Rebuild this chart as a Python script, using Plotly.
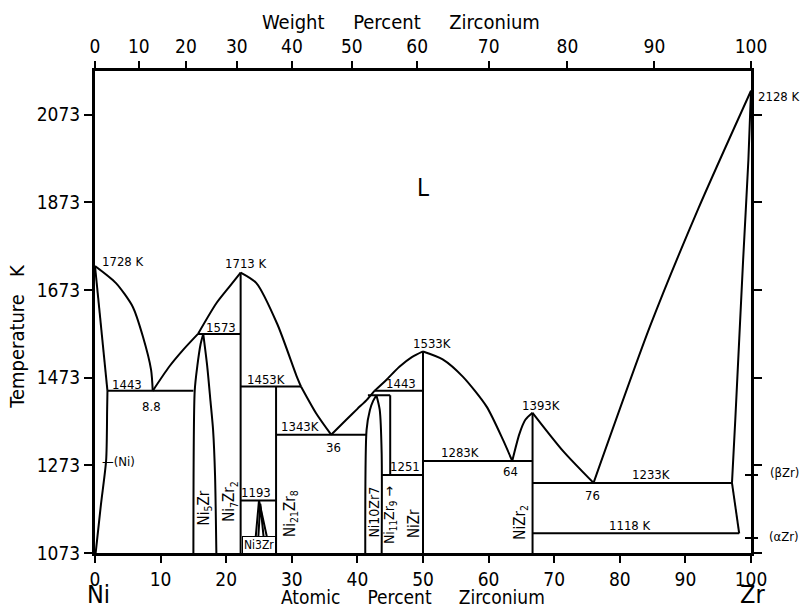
import plotly.graph_objects as go

# ---------------- data (at.% Zr, temperature K) ----------------
liq_a_x = [0, 3.2, 5.75, 7.3, 8.55, 8.8]
liq_a_T = [1728, 1689, 1635, 1567, 1491, 1443]
liq_b_x = [8.8, 11.3, 13.4, 15.7]
liq_b_T = [1443, 1498, 1536, 1573]
liq_c_x = [15.7, 18.5, 20.5, 22.2]
liq_c_T = [1573, 1643, 1681, 1713]
liq_d_x = [22.2, 24.6, 27.8, 30.7, 31.4]
liq_d_T = [1713, 1689, 1595, 1478, 1453]
liq_d2_x = [31.4, 33.7, 36.0]
liq_d2_T = [1453, 1392, 1343]
liq_e_x = [36.0, 38.3, 40.0, 41.4, 42.6]
liq_e_T = [1343, 1377, 1402, 1422, 1443]
liq_f_x = [42.6, 44.4, 46.4, 48.3, 50.0]
liq_f_T = [1443, 1468, 1498, 1520, 1533]
liq_g_x = [50.0, 53.0, 56.1, 59.7, 62.2, 63.6]
liq_g_T = [1533, 1515, 1475, 1407, 1331, 1283]
liq_h_x = [63.6, 64.7, 65.6, 66.7]
liq_h_T = [1283, 1345, 1377, 1393]
liq_i_x = [66.7, 71.4, 76.0]
liq_i_T = [1393, 1305, 1233]
liq_j_x = [76.0, 84.6, 92.0, 100.0]
liq_j_T = [1233, 1590, 1860, 2128]

ni_solidus_x = [0, 1.9]
ni_solidus_T = [1728, 1443]
ni_solvus_x = [1.9, 1.85, 1.7, 0.9, 0.1]
ni_solvus_T = [1443, 1400, 1285, 1183, 1073]

zr_solidus_x = [100.0, 99.6, 98.8, 97.6, 97.1]
zr_solidus_T = [2128, 1970, 1742, 1376, 1233]
zr_solvus_x = [97.1, 98.2]
zr_solvus_T = [1233, 1118]

ni5zr_left_x = [15.0, 15.2, 15.6, 16.1, 16.5]
ni5zr_left_T = [1073, 1443, 1500, 1550, 1573]
ni5zr_right_x = [16.5, 17.1, 17.6, 18.0, 18.3, 18.5]
ni5zr_right_T = [1573, 1500, 1420, 1354, 1250, 1073]

ni10zr7_left_x = [41.2, 41.4, 41.9, 42.4, 42.9]
ni10zr7_left_T = [1073, 1354, 1399, 1420, 1433]
ni10zr7_right_x = [42.9, 43.4, 43.7, 43.7]
ni10zr7_right_T = [1433, 1400, 1300, 1073]

ni3zr_outer_x = [24.5, 25.0, 26.2]
ni3zr_outer_T = [1110, 1193, 1110]
ni3zr_inner_x = [24.9, 25.2, 25.7]
ni3zr_inner_T = [1110, 1185, 1110]

# invariant horizontals: temperature, left end, right end
inv_T = [1443, 1573, 1453, 1343, 1443, 1433, 1251, 1193, 1283, 1233, 1118]
inv_x0 = [1.9, 15.7, 22.2, 27.6, 42.6, 41.6, 43.7, 22.2, 50.0, 66.7, 66.7]
inv_x1 = [15.0, 22.2, 31.4, 41.4, 50.0, 45.0, 50.0, 27.6, 66.7, 97.1, 98.2]

# line compounds: composition, lower T, upper T
cmp_x = [22.2, 27.6, 50.0, 66.7, 45.0]
cmp_T0 = [1073, 1073, 1073, 1073, 1251]
cmp_T1 = [1713, 1453, 1533, 1393, 1433]

y_ticks = [1073, 1273, 1473, 1673, 1873, 2073]
zr_marks_T = [1251, 1107]          # (βZr) / (αZr) markers on right axis
wt_ticks = [0, 10, 20, 30, 40, 50, 60, 70, 80, 90, 100]
x_ticks = [0, 10, 20, 30, 40, 50, 60, 70, 80, 90, 100]
M_NI, M_ZR = 58.69, 91.22

# ---------------- figure ----------------
FONT = "DejaVu Sans Condensed, DejaVu Sans, sans-serif"
Y_RANGE = [1073, 2173]
fig = go.Figure()


def add_line(x, y, smooth=True):
    fig.add_trace(go.Scatter(
        x=x, y=y, mode="lines", hoverinfo="skip", showlegend=False,
        line=dict(color="black", width=2,
                  shape="spline" if smooth and len(x) > 2 else "linear",
                  smoothing=0.7)))


for xs, ts in [(liq_a_x, liq_a_T), (liq_b_x, liq_b_T), (liq_c_x, liq_c_T),
               (liq_d_x, liq_d_T), (liq_d2_x, liq_d2_T), (liq_e_x, liq_e_T),
               (liq_f_x, liq_f_T), (liq_g_x, liq_g_T), (liq_h_x, liq_h_T),
               (liq_i_x, liq_i_T), (liq_j_x, liq_j_T),
               (ni_solidus_x, ni_solidus_T), (ni_solvus_x, ni_solvus_T),
               (zr_solidus_x, zr_solidus_T), (zr_solvus_x, zr_solvus_T),
               (ni5zr_left_x, ni5zr_left_T), (ni5zr_right_x, ni5zr_right_T),
               (ni10zr7_left_x, ni10zr7_left_T),
               (ni10zr7_right_x, ni10zr7_right_T)]:
    add_line(xs, ts)

for xs, ts in [(ni3zr_outer_x, ni3zr_outer_T), (ni3zr_inner_x, ni3zr_inner_T)]:
    add_line(xs, ts, smooth=False)

for T, a, b in zip(inv_T, inv_x0, inv_x1):
    add_line([a, b], [T, T], smooth=False)

for xc, t0, t1 in zip(cmp_x, cmp_T0, cmp_T1):
    add_line([xc, xc], [t0, t1], smooth=False)

# dummy traces so that the extra axes are drawn
fig.add_trace(go.Scatter(x=[0, 100], y=[1073, 1073], xaxis="x2", mode="markers",
                         marker=dict(opacity=0), hoverinfo="skip", showlegend=False))
for ya in ["y2", "y3"]:
    fig.add_trace(go.Scatter(x=[100, 100], y=Y_RANGE, yaxis=ya, mode="markers",
                             marker=dict(opacity=0), hoverinfo="skip",
                             showlegend=False))

# weight% -> atomic% positions for top ticks
wt_pos = []
for w in wt_ticks:
    if w == 0:
        wt_pos.append(0.0)
    elif w == 100:
        wt_pos.append(100.0)
    else:
        nz = w / M_ZR
        nn = (100 - w) / M_NI
        wt_pos.append(100 * nz / (nz + nn))

ann = []


def label(text, x, y, size=13, angle=0, xanchor="center", yanchor="middle",
          xref="x", yref="y"):
    ann.append(dict(text=text, x=x, y=y, xref=xref, yref=yref, showarrow=False,
                    textangle=angle, xanchor=xanchor, yanchor=yanchor,
                    font=dict(family=FONT, size=size, color="black")))


# temperature/composition labels
label("1728 K", 0.7, 1738, xanchor="left")
label("1713 K", 23.0, 1734)
label("1573", 19.2, 1588)
label("1443", 4.9, 1458)
label("8.8", 8.6, 1407)
label("1453K", 26.1, 1469)
label("1343K", 31.3, 1361)
label("36", 36.3, 1314)
label("1193", 24.6, 1211)
label("1443", 46.7, 1459)
label("1251", 47.3, 1270)
label("1533K", 51.4, 1552)
label("1283K", 55.6, 1302)
label("64", 63.4, 1259)
label("1393K", 68.0, 1409)
label("1233K", 84.7, 1253)
label("76", 75.8, 1205)
label("1118 K", 81.5, 1135)
label("L", 50.0, 1905, size=24)
label("—(Ni)", 0.8, 1282, xanchor="left")

# phase names (rotated)
label("Ni<sub>5</sub>Zr", 16.7, 1176, size=15, angle=-90)
label("Ni<sub>7</sub>Zr<sub>2</sub>", 20.6, 1190, size=15, angle=-90)
label("Ni<sub>21</sub>Zr<sub>8</sub>", 29.7, 1164, size=15, angle=-90)
label("Ni10Zr7", 42.5, 1167, size=14, angle=-90)
label("Ni<sub>11</sub>Zr<sub>9</sub> →", 45.0, 1160, size=14, angle=-90)
label("NiZr", 48.6, 1141, size=15, angle=-90)
label("NiZr<sub>2</sub>", 64.9, 1144, size=15, angle=-90)
ann.append(dict(text="Ni3Zr", x=25.0, y=1091, xref="x", yref="y", showarrow=False,
                font=dict(family=FONT, size=12, color="black"),
                bordercolor="black", borderwidth=1, borderpad=1, bgcolor="white"))

# right side
label("2128 K", 1.0762, 0.947, size=13, xanchor="right", xref="paper", yref="paper")
label("(βZr)", 1.0762, 0.166, size=13, xanchor="right", xref="paper", yref="paper")
label("(αZr)", 1.0762, 0.034, size=13, xanchor="right", xref="paper", yref="paper")

# axis titles
SP = "\u00a0" * 5
label("Weight" + SP + "Percent" + SP + "Zirconium",
      0.466, 1.102, size=20, xref="paper", yref="paper")
label("Atomic" + SP + "Percent" + SP + "Zirconium", 0.485, -0.118,
      size=19, yanchor="bottom", xref="paper", yref="paper")
label("Ni", 0.005, -0.121, size=25, yanchor="bottom", xref="paper", yref="paper")
label("Zr", 1.003, -0.121, size=25, yanchor="bottom", xref="paper", yref="paper")
label("Temperature\u00a0\u00a0\u00a0K", -0.118, 0.45, size=20, angle=-90,
      xref="paper", yref="paper")

tickfont = dict(family=FONT, size=19, color="black")
fig.update_layout(
    width=803, height=612,
    margin=dict(l=95, r=52, t=71, b=59),
    paper_bgcolor="white", plot_bgcolor="white",
    showlegend=False,
    annotations=ann,
    xaxis=dict(range=[0, 100], tickvals=x_ticks, ticks="outside", ticklen=7,
               tickwidth=2, tickcolor="black", showline=True, linewidth=3,
               linecolor="black", mirror=False, showgrid=False, zeroline=False,
               tickfont=tickfont),
    xaxis2=dict(range=[0, 100], overlaying="x", side="top", anchor="y",
                tickvals=wt_pos, ticktext=[str(w) for w in wt_ticks],
                ticks="outside", ticklen=7, tickwidth=2, tickcolor="black",
                showline=True, linewidth=3, linecolor="black", showgrid=False,
                zeroline=False, tickfont=tickfont),
    yaxis=dict(range=Y_RANGE, tickvals=y_ticks, ticks="outside", ticklen=8,
               tickwidth=2, tickcolor="black", showline=True, linewidth=3,
               linecolor="black", mirror="ticks", showgrid=False, zeroline=False,
               tickfont=tickfont),
    yaxis2=dict(range=Y_RANGE, overlaying="y", side="right", anchor="x",
                tickvals=zr_marks_T, ticks="outside", ticklen=6, tickwidth=2,
                tickcolor="black", showticklabels=False, showline=False,
                showgrid=False, zeroline=False),
    yaxis3=dict(range=Y_RANGE, overlaying="y", side="right", anchor="x",
                tickvals=zr_marks_T, ticks="inside", ticklen=6, tickwidth=2,
                tickcolor="black", showticklabels=False, showline=False,
                showgrid=False, zeroline=False),
)

fig.write_html(
    "out.html",
    config={"displayModeBar": False},
    post_script="document.body.style.margin='0';document.body.style.overflow='hidden';",
)
